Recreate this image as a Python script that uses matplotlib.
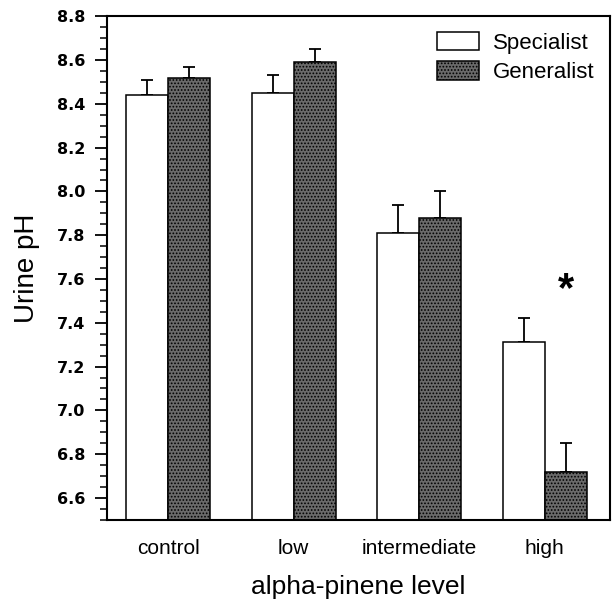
import numpy as np
import matplotlib.pyplot as plt
from matplotlib.ticker import MultipleLocator

plt.rcParams['font.family'] = ['Liberation Sans', 'DejaVu Sans']
plt.rcParams['hatch.color'] = 'black'
plt.rcParams['hatch.linewidth'] = 0.8

# data
levels = ['control', 'low', 'intermediate', 'high']
specialist = [8.44, 8.45, 7.81, 7.31]
specialist_err = [0.07, 0.08, 0.13, 0.11]
generalist = [8.52, 8.59, 7.88, 6.72]
generalist_err = [0.05, 0.06, 0.12, 0.13]

x = np.arange(len(levels))
w = 0.335

fig = plt.figure(figsize=(6.16, 6.01), dpi=100)
ax = fig.add_axes([0.174, 0.135, 0.816, 0.838])

ax.bar(x - w / 2, specialist, w, color='white', edgecolor='black',
       linewidth=1.1, label='Specialist', zorder=2)
ax.bar(x + w / 2, generalist, w, color='#6a6a6a', edgecolor='black',
       linewidth=1.1, hatch='.....', label='Generalist', zorder=2)

ax.errorbar(x - w / 2, specialist, yerr=[np.zeros(4), specialist_err], fmt='none',
            ecolor='black', elinewidth=1.3, capsize=4.5, capthick=1.3, zorder=1)
ax.errorbar(x + w / 2, generalist, yerr=[np.zeros(4), generalist_err], fmt='none',
            ecolor='black', elinewidth=1.3, capsize=4.5, capthick=1.3, zorder=1)

# significance marker
ax.text(x[3] + w / 2, 7.55, '*', ha='center', va='center', fontsize=30,
        fontweight='bold')

ax.set_ylim(6.5, 8.8)
ax.set_xlim(-0.485, 3.52)
ax.yaxis.set_minor_locator(MultipleLocator(0.05))
ax.set_yticks(np.arange(6.6, 8.81, 0.2))
ax.set_yticklabels([f'{v:.1f}' for v in np.arange(6.6, 8.81, 0.2)],
                   fontfamily='DejaVu Sans', fontweight='bold', fontsize=11.5)
ax.tick_params(axis='y', which='major', length=9, width=1.3, direction='out', pad=7)
ax.tick_params(axis='y', which='minor', length=5, width=1.1, direction='out')
ax.set_xticks(x)
ax.set_xticklabels(levels, fontsize=15)
ax.tick_params(axis='x', length=0, pad=14)

for s in ax.spines.values():
    s.set_linewidth(1.5)

ax.set_ylabel('Urine pH', fontsize=20, labelpad=12)
ax.set_xlabel('alpha-pinene level', fontsize=19, labelpad=12)

ax.legend(loc='upper right', frameon=False, fontsize=16, handlelength=1.9,
          handleheight=0.9, handletextpad=0.6, labelspacing=0.35,
          borderaxespad=0.3)

plt.savefig('out.png', dpi=100)
